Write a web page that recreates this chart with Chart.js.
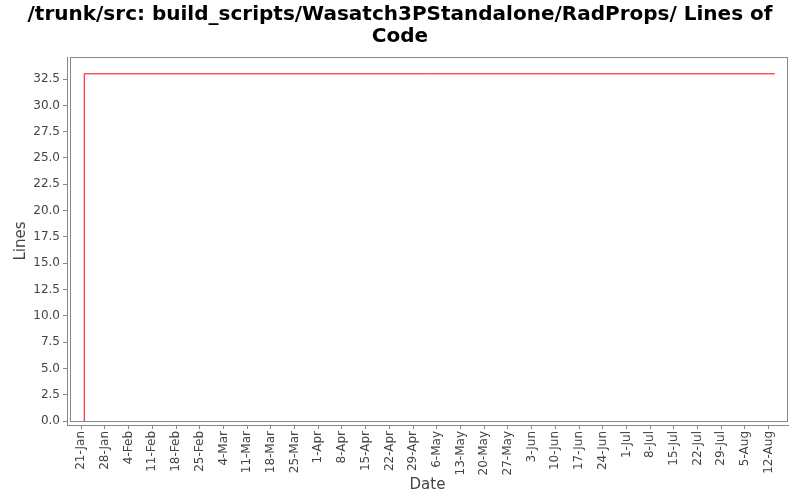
<!DOCTYPE html>
<html>
<head>
<meta charset="utf-8">
<script src="https://cdn.jsdelivr.net/npm/chart.js@4"></script>
<style>
  html, body { margin: 0; padding: 0; background: #fff; }
  #wrap { width: 800px; height: 500px; }
</style>
</head>
<body>
<div id="wrap"><canvas id="chart" width="800" height="500"></canvas></div>
<script>
// days counted from 21-Jan
const tickDays = [0, 7, 14, 21, 28, 35, 42, 49, 56, 63, 70, 77, 84, 91, 98, 105, 112, 119, 126, 133,
  140, 147, 154, 161, 168, 175, 182, 189, 196, 203];
const tickLabels = ["21-Jan", "28-Jan", "4-Feb", "11-Feb", "18-Feb", "25-Feb", "4-Mar", "11-Mar", "18-Mar", "25-Mar",
  "1-Apr", "8-Apr", "15-Apr", "22-Apr", "29-Apr", "6-May", "13-May", "20-May", "27-May", "3-Jun",
  "10-Jun", "17-Jun", "24-Jun", "1-Jul", "8-Jul", "15-Jul", "22-Jul", "29-Jul", "5-Aug", "12-Aug"];
const yTicks = [0, 2.5, 5, 7.5, 10, 12.5, 15, 17.5, 20, 22.5, 25, 27.5, 30, 32.5];

const pointDays = [0.9, 0.9, 204.8];
const linesOfCode = [0, 33, 33];

const gray = "#888888";
const labelColor = "#444444";
const fontFamily = "'DejaVu Sans', sans-serif";

// inner plot frame, a few px inside the axis lines
const plotFrame = {
  id: "plotFrame",
  beforeDatasetsDraw(chart) {
    const a = chart.chartArea;
    const c = chart.ctx;
    c.save();
    c.strokeStyle = gray;
    c.lineWidth = 1;
    c.strokeRect(Math.round(a.left + 3) + 0.5, Math.round(a.top) + 0.5,
      Math.round(a.right - a.left - 3) - 1, Math.round(a.bottom - a.top - 4));
    c.restore();
  }
};

new Chart(document.getElementById("chart").getContext("2d"), {
  type: "line",
  data: {
    datasets: [{
      label: "Lines",
      data: pointDays.map((d, i) => ({ x: d, y: linesOfCode[i] })),
      borderColor: "#ff0000",
      borderWidth: 1,
      pointRadius: 0,
      tension: 0,
      fill: false
    }]
  },
  options: {
    responsive: false,
    animation: false,
    layout: { padding: { left: 12, right: 12, top: 0, bottom: 6 } },
    plugins: {
      legend: { display: false },
      tooltip: { enabled: false },
      title: {
        display: true,
        text: ["/trunk/src: build_scripts/Wasatch3PStandalone/RadProps/ Lines of", "Code"],
        color: "#000",
        font: { family: fontFamily, size: 20, weight: "bold", lineHeight: 1.1 },
        padding: { top: 4, bottom: 9 }
      }
    },
    scales: {
      x: {
        type: "linear",
        min: -4.2,
        max: 208.7,
        afterBuildTicks: s => { s.ticks = tickDays.map(v => ({ value: v })); },
        afterFit: s => { s.height = 69; },
        ticks: {
          autoSkip: false,
          minRotation: 90,
          maxRotation: 90,
          color: labelColor,
          font: { family: fontFamily, size: 12 },
          padding: 2,
          callback: (v) => tickLabels[tickDays.indexOf(v)]
        },
        grid: { drawOnChartArea: false, drawTicks: true, tickLength: 4, color: gray },
        border: { display: true, color: gray },
        title: {
          display: true,
          text: "Date",
          color: labelColor,
          font: { family: fontFamily, size: 15 },
          padding: { top: 0, bottom: 0 }
        }
      },
      y: {
        min: -0.38,
        max: 34.6,
        afterBuildTicks: s => { s.ticks = yTicks.map(v => ({ value: v })); },
        afterFit: s => { s.width = 55; },
        ticks: {
          color: labelColor,
          font: { family: fontFamily, size: 12 },
          padding: 3,
          callback: v => v.toFixed(1)
        },
        grid: { drawOnChartArea: false, drawTicks: true, tickLength: 4, color: gray },
        border: { display: true, color: gray },
        title: {
          display: true,
          text: "Lines",
          color: labelColor,
          font: { family: fontFamily, size: 15 },
          padding: { top: 0, bottom: 0 }
        }
      }
    }
  },
  plugins: [plotFrame]
});
</script>
</body>
</html>
